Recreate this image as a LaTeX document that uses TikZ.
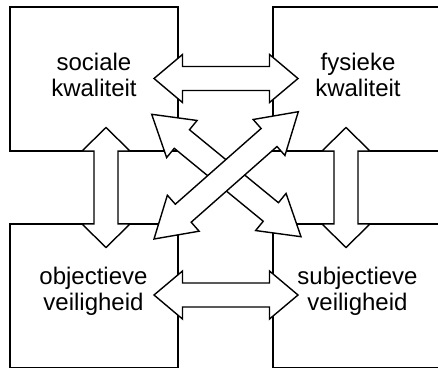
\documentclass[tikz,border=0pt]{standalone}
\usepackage{fontspec}
\setmainfont{Liberation Sans}
\usetikzlibrary{calc}
\tikzset{
  box/.style={draw, line width=1.4pt, minimum width=168pt, minimum height=144pt, inner sep=0pt},
  lbl/.style={align=center, inner sep=0pt, font=\fontsize{24}{26}\selectfont},
  arr/.style={draw, fill=white, line width=1.4pt, line join=miter},
}
\newcommand\dblarr[3]{%
  \coordinate (#1h) at ($(#1)!#3!(#2)$);
  \coordinate (#2h) at ($(#2)!#3!(#1)$);
  \path[arr] (#1) -- ($(#1h)!24pt!90:(#2)$) -- ($(#1h)!12pt!90:(#2)$)
    -- ($(#2h)!12pt!-90:(#1)$) -- ($(#2h)!24pt!-90:(#1)$) -- (#2)
    -- ($(#2h)!24pt!90:(#1)$) -- ($(#2h)!12pt!90:(#1)$)
    -- ($(#1h)!12pt!-90:(#2)$) -- ($(#1h)!24pt!-90:(#2)$) -- cycle;
}
\begin{document}
\begin{tikzpicture}[x=1pt,y=-1pt]
\useasboundingbox (0,0) rectangle (438,367);
\clip (0,0) rectangle (438,367);
\fill[white] (0,0) rectangle (438,367);
% boxes
\node[box] (sk) at (94,79) {};
\node[box] (fk) at (357,79) {};
\node[box] (ov) at (94,296) {};
\node[box] (sv) at (357,296) {};
% arrow tips
\coordinate (vl1) at (106,127.5);
\coordinate (vl2) at (106,247.5);
\coordinate (vr1) at (346,127.5);
\coordinate (vr2) at (346,247.5);
\coordinate (ht1) at (154,78.5);
\coordinate (ht2) at (298,78.5);
\coordinate (hb1) at (154,295);
\coordinate (hb2) at (298,295);
\coordinate (dnw) at (151.7,114.3);
\coordinate (dse) at (301,236.7);
\coordinate (dne) at (298.3,111.7);
\coordinate (dsw) at (154,239);
% arrows
\dblarr{vl1}{vl2}{23.5pt}
\dblarr{vr1}{vr2}{23.5pt}
\dblarr{ht1}{ht2}{28.5pt}
\dblarr{hb1}{hb2}{28.5pt}
\dblarr{dnw}{dse}{39pt}
\dblarr{dne}{dsw}{39pt}
% labels
\node[lbl] (tsk) at (94,74.5) {sociale\\kwaliteit};
\node[lbl] (tfk) at (358,74.5) {fysieke\\kwaliteit};
\node[lbl] (tov) at (93.5,291) {objectieve\\veiligheid};
\node[lbl] (tsv) at (357.5,291) {subjectieve\\veiligheid};
\end{tikzpicture}
\end{document}
